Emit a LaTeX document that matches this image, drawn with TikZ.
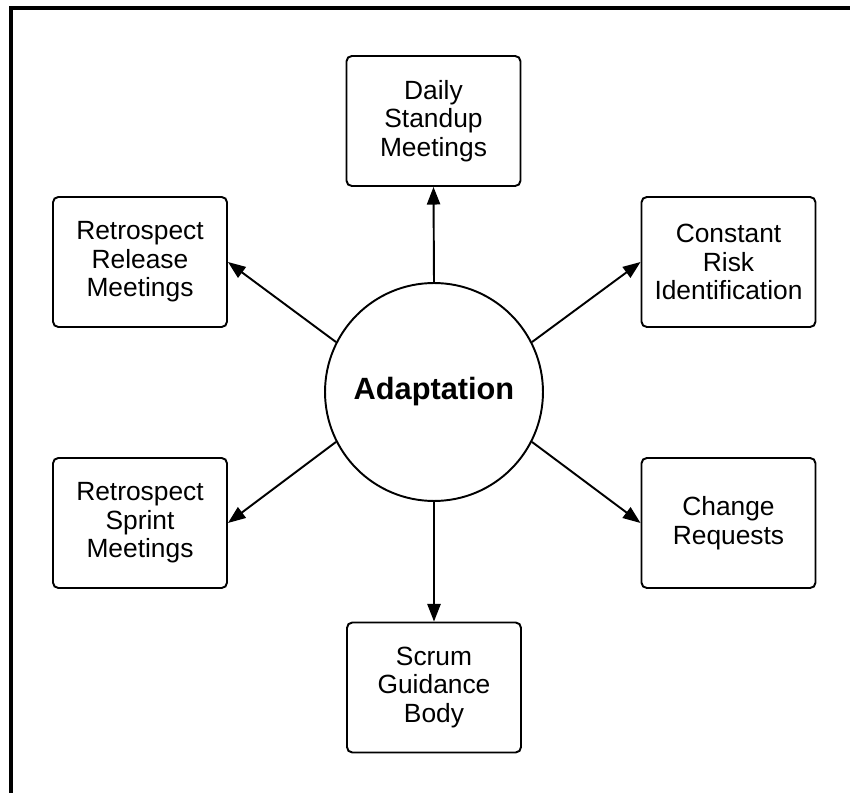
\documentclass[tikz,border=0pt]{standalone}
\usepackage{fontspec}
\setmainfont{Liberation Sans}
\usetikzlibrary{arrows.meta}
\begin{document}
\begin{tikzpicture}[x=0.02cm,y=-0.02cm,
  box/.style={draw,line width=1.1pt,rounded corners=3pt,minimum width=3.48cm,minimum height=2.6cm,align=center,font=\fontsize{15}{16.2}\selectfont},
  hub/.style={draw,circle,line width=1.1pt,minimum size=4.36cm,inner sep=0pt,font=\fontsize{17.5}{20}\selectfont\bfseries},
  link/.style={line width=1.1pt,-{Triangle[length=10pt,width=7.5pt]}}]
\useasboundingbox (0,0) rectangle (850,793);
\draw[line width=2.3pt] (11,793) -- (11,8) -- (850,8);
\node[hub] (adapt) at (434,392) {Adaptation};
\node[box] (daily) at (433.5,121) {Daily\\Standup\\Meetings};
\node[box] (release) at (140,262) {Retrospect\\Release\\Meetings};
\node[box] (risk) at (728.5,262) {Constant\\Risk\\Identification};
\node[box] (sprint) at (140,523) {Retrospect\\Sprint\\Meetings};
\node[box] (change) at (728.5,523) {Change\\Requests};
\node[box] (scrum) at (434,687.5) {Scrum\\Guidance\\Body};
\draw[link] (adapt.north) to (daily.south);
\draw[link] (adapt.153) to (release.east);
\draw[link] (adapt.27) to (risk.west);
\draw[link] (adapt.207) to (sprint.east);
\draw[link] (adapt.333) to (change.west);
\draw[link] (adapt.south) to (scrum.north);
\end{tikzpicture}
\end{document}
